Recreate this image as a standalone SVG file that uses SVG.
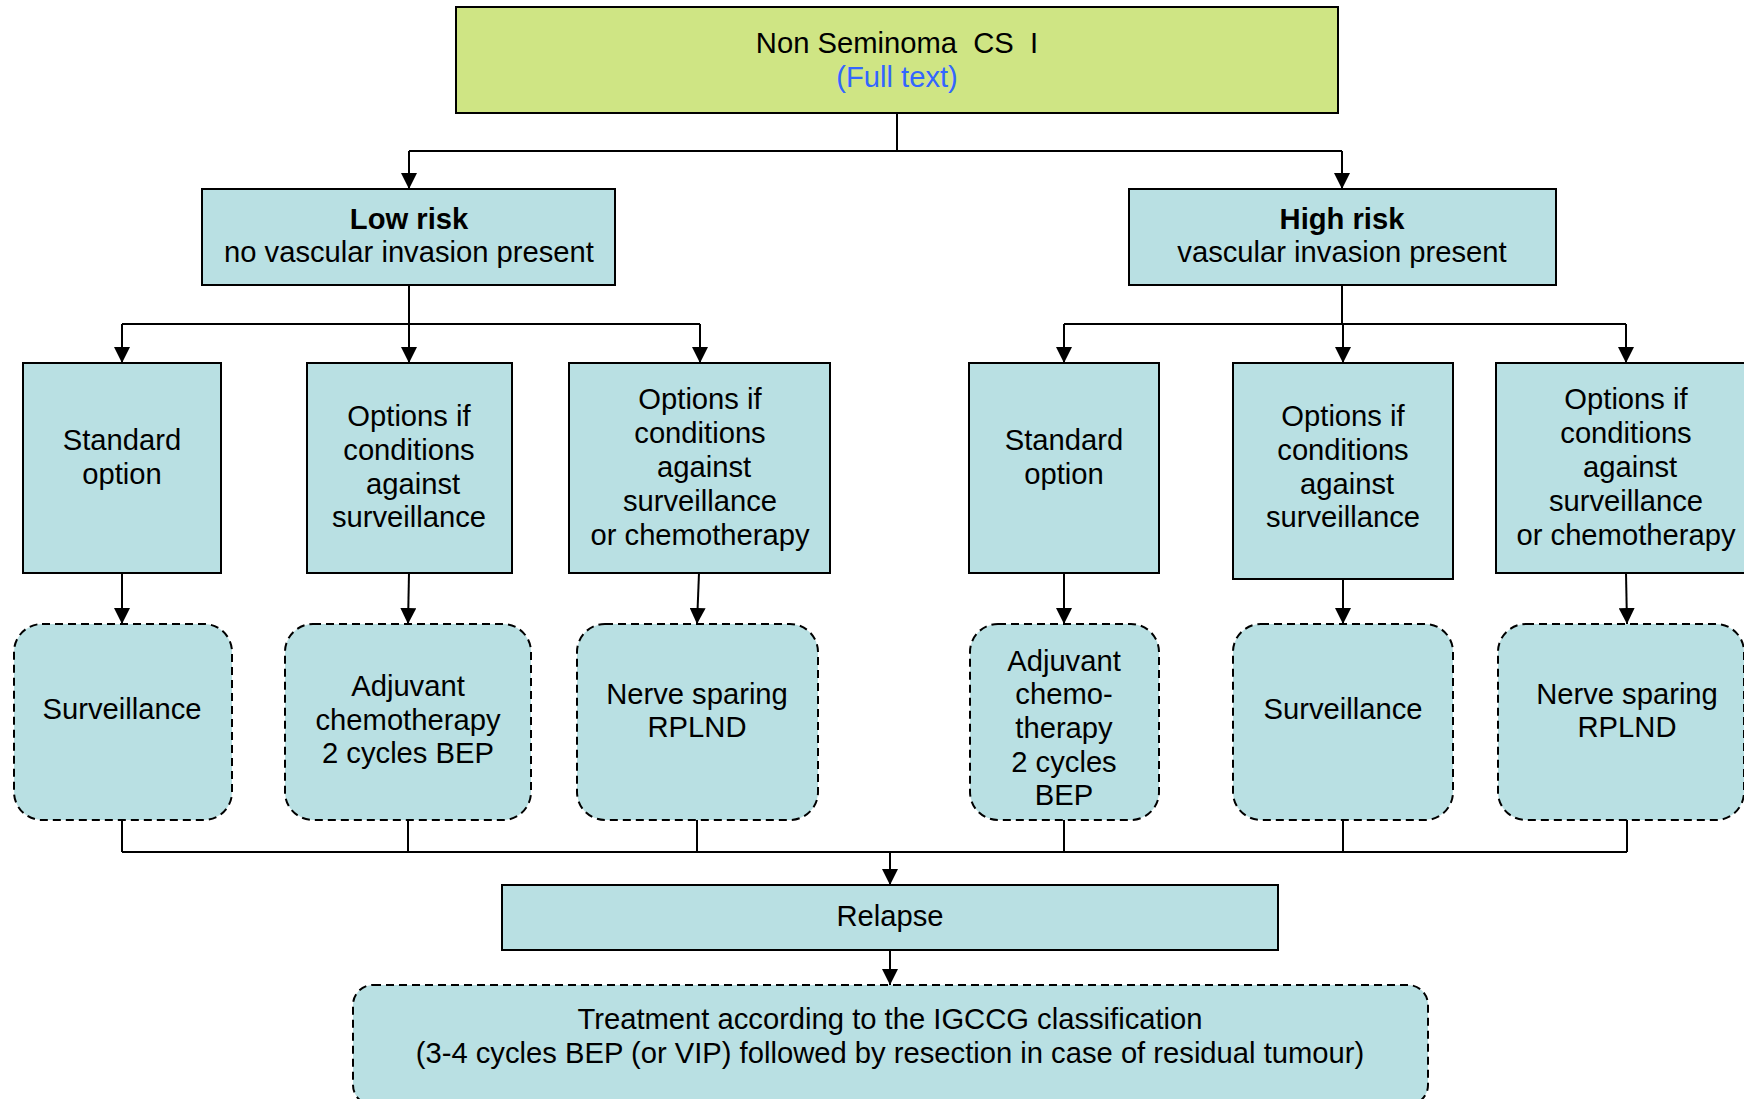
<svg xmlns="http://www.w3.org/2000/svg" width="1744" height="1099" viewBox="0 0 1744 1099">
<defs>
<marker id="ah" markerUnits="userSpaceOnUse" markerWidth="16" markerHeight="16" refX="16" refY="8" orient="auto" viewBox="0 0 16 16">
<path d="M0,0 L16,8 L0,16 Z" fill="#000"/>
</marker>
<style>
text{font-family:"Liberation Sans",Arial,sans-serif;font-size:29.2px;fill:#000;text-anchor:middle}
.b{font-weight:bold}
.blue{fill:#3366FF}
.box{fill:#B9E0E3;stroke:#000;stroke-width:2}
.dash{fill:#B9E0E3;stroke:#000;stroke-width:2;stroke-dasharray:8,5}
.top{fill:#CFE584;stroke:#000;stroke-width:2}
.c{fill:none;stroke:#000;stroke-width:2}
.a{fill:none;stroke:#000;stroke-width:2;marker-end:url(#ah)}
</style>
</defs>
<g id="connectors">
<path class="c" d="M897,113 V151 M409,151 H1342"/>
<path class="a" d="M409,151 V189"/>
<path class="a" d="M1342,151 V189"/>
<path class="c" d="M409,285 V324 M122,324 H700"/>
<path class="a" d="M122,324 V363"/>
<path class="a" d="M409,324 V363"/>
<path class="a" d="M700,324 V363"/>
<path class="c" d="M1342,285 V324 M1064,324 H1626"/>
<path class="a" d="M1064,324 V363"/>
<path class="a" d="M1343,324 V363"/>
<path class="a" d="M1626,324 V363"/>
<path class="a" d="M122,573 V624"/>
<path class="a" d="M409,573 L408,624"/>
<path class="a" d="M699,573 L697,624"/>
<path class="a" d="M1064,573 V624"/>
<path class="a" d="M1343,579 V624"/>
<path class="a" d="M1626,573 L1627,624"/>
<path class="c" d="M122,820 V852 M408,820 V852 M697,820 V852 M1064,820 V852 M1343,820 V852 M1627,820 V852 M122,852 H1627"/>
<path class="a" d="M890,852 V885"/>
<path class="a" d="M890,950 V985"/>
</g>
<g id="n-top">
<rect class="top" x="456" y="7" width="882" height="106"/>
<text x="897" y="53" xml:space="preserve">Non Seminoma  CS  I</text>
<text class="blue" x="897" y="87">(Full text)</text>
</g>
<g id="n-low">
<rect class="box" x="202" y="189" width="413" height="96"/>
<text class="b" x="409" y="229">Low risk</text>
<text x="409" y="262">no vascular invasion present</text>
</g>
<g id="n-high">
<rect class="box" x="1129" y="189" width="427" height="96"/>
<text class="b" x="1342" y="229">High risk</text>
<text x="1342" y="262">vascular invasion present</text>
</g>
<g id="n-l1">
<rect class="box" x="23" y="363" width="198" height="210"/>
<text x="122" y="450">Standard</text>
<text x="122" y="484">option</text>
</g>
<g id="n-l2">
<rect class="box" x="307" y="363" width="205" height="210"/>
<text x="409" y="426">Options if</text>
<text x="409" y="460">conditions</text>
<text x="409" y="494" xml:space="preserve"> against</text>
<text x="409" y="527">surveillance</text>
</g>
<g id="n-l3">
<rect class="box" x="569" y="363" width="261" height="210"/>
<text x="700" y="409">Options if</text>
<text x="700" y="443">conditions</text>
<text x="700" y="477" xml:space="preserve"> against</text>
<text x="700" y="511">surveillance</text>
<text x="700" y="545">or chemotherapy</text>
</g>
<g id="n-r1">
<rect class="box" x="969" y="363" width="190" height="210"/>
<text x="1064" y="450">Standard</text>
<text x="1064" y="484">option</text>
</g>
<g id="n-r2">
<rect class="box" x="1233" y="363" width="220" height="216"/>
<text x="1343" y="426">Options if</text>
<text x="1343" y="460">conditions</text>
<text x="1343" y="494" xml:space="preserve"> against</text>
<text x="1343" y="527">surveillance</text>
</g>
<g id="n-r3">
<rect class="box" x="1496" y="363" width="250" height="210"/>
<text x="1626" y="409">Options if</text>
<text x="1626" y="443">conditions</text>
<text x="1626" y="477" xml:space="preserve"> against</text>
<text x="1626" y="511">surveillance</text>
<text x="1626" y="545">or chemotherapy</text>
</g>
<g id="n-l1b">
<rect class="dash" x="14" y="624" width="218" height="196" rx="28"/>
<text x="122" y="719">Surveillance</text>
</g>
<g id="n-l2b">
<rect class="dash" x="285" y="624" width="246" height="196" rx="28"/>
<text x="408" y="696">Adjuvant</text>
<text x="408" y="730">chemotherapy</text>
<text x="408" y="763">2 cycles BEP</text>
</g>
<g id="n-l3b">
<rect class="dash" x="577" y="624" width="241" height="196" rx="28"/>
<text x="697" y="704">Nerve sparing</text>
<text x="697" y="737">RPLND</text>
</g>
<g id="n-r1b">
<rect class="dash" x="970" y="624" width="189" height="196" rx="28"/>
<text x="1064" y="671">Adjuvant</text>
<text x="1064" y="704">chemo-</text>
<text x="1064" y="738">therapy</text>
<text x="1064" y="772">2 cycles</text>
<text x="1064" y="805">BEP</text>
</g>
<g id="n-r2b">
<rect class="dash" x="1233" y="624" width="220" height="196" rx="28"/>
<text x="1343" y="719">Surveillance</text>
</g>
<g id="n-r3b">
<rect class="dash" x="1498" y="624" width="246" height="196" rx="28"/>
<text x="1627" y="704">Nerve sparing</text>
<text x="1627" y="737">RPLND</text>
</g>
<g id="n-relapse">
<rect class="box" x="502" y="885" width="776" height="65"/>
<text x="890" y="926">Relapse</text>
</g>
<g id="n-treat">
<rect class="dash" x="353" y="985" width="1075" height="120" rx="20"/>
<text x="890" y="1029">Treatment according to the IGCCG classification</text>
<text x="890" y="1063">(3-4 cycles BEP (or VIP) followed by resection in case of residual tumour)</text>
</g>
</svg>
